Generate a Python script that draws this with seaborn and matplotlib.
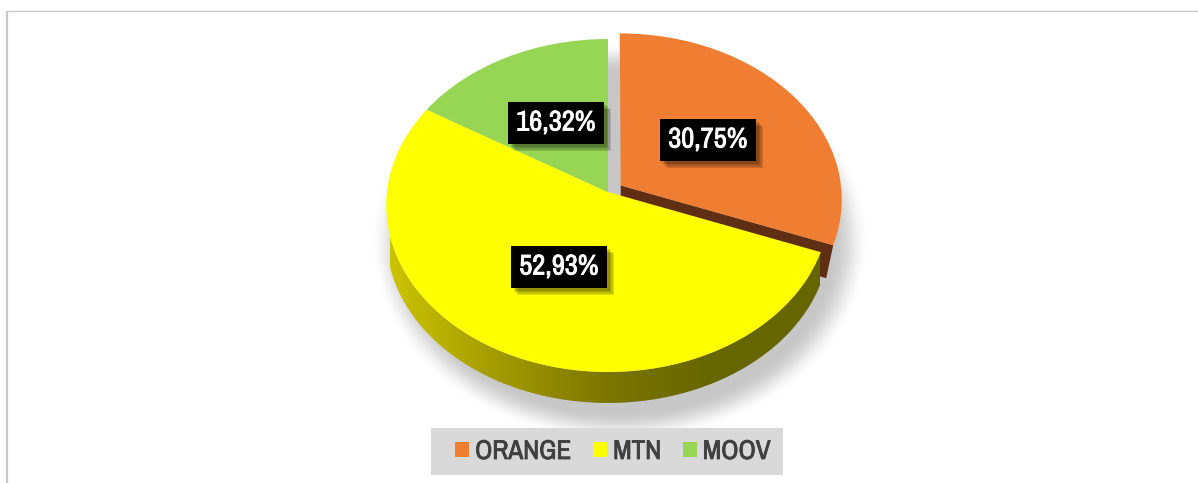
import numpy as np
import matplotlib
matplotlib.use("Agg")
import matplotlib.pyplot as plt
import matplotlib.patheffects as pe
from matplotlib.colors import LinearSegmentedColormap
from matplotlib.patches import Patch, Polygon, Rectangle
from matplotlib.transforms import Transform
import seaborn as sns

# donnees
operateurs = ["ORANGE", "MTN", "MOOV"]
parts = [30.75, 52.93, 16.32]
couleurs = ["#f07e32", "#ffff00", "#97d655"]

sns.set_theme(style="white")
plt.rcParams['font.family'] = ['Archivo Narrow', 'PT Sans Narrow', 'Liberation Sans', 'DejaVu Sans']

W, H = 1198, 483
CX, CY, RX, RY, K = 608, 192, 221, 165.4, 0.081
DEPTH = 31
EXPLODE = 0.07


# disque unite -> pixels, avec une perspective (le haut du disque est plus loin)
class Perspective(Transform):
    input_dims = 2
    output_dims = 2

    def transform_non_affine(self, values):
        u, v = np.asarray(values).T
        w = 1 + K * v
        return np.column_stack([CX + RX * u / w, CY - RY * v / w])


def arc(a1, a2, offset=(0, 0)):
    # a1, a2 en degres depuis le haut, sens horaire
    t = np.radians(np.linspace(a1, a2, 200))
    pts = np.column_stack([np.sin(t) + offset[0], np.cos(t) + offset[1]])
    return Perspective().transform_non_affine(pts)


fig = plt.figure(figsize=(W / 100, H / 100), dpi=100, facecolor="white")
ax = fig.add_axes([0, 0, 1, 1])

# ombre portee floue
xx, yy = np.meshgrid(np.arange(W) + 0.5, np.arange(H) + 0.5)
d = np.sqrt(((xx - 620) / 250) ** 2 + ((yy - 242) / 200) ** 2)
t = np.clip((1.0 - d) / 0.15, 0, 1)
ombre = np.zeros((H, W, 4))
ombre[..., 3] = 0.22 * t * t * (3 - 2 * t)
ax.imshow(ombre, extent=(0, W, H, 0), aspect="auto", zorder=1)

angles = np.cumsum([0] + [p * 3.6 for p in parts])

# flanc de la tranche orange (detachee), visible seulement sous la coupe
mid = np.radians((angles[0] + angles[1]) / 2)
off = (EXPLODE * np.sin(mid), EXPLODE * np.cos(mid))
bord = arc(angles[0], angles[1], off)
apex = Perspective().transform_non_affine(np.array([off]))
ax.add_patch(Polygon(np.vstack([apex, bord[-1:], bord[-1:] + [-7, DEPTH + 2], apex + [0, DEPTH]]),
                     closed=True, fc="#602e12", ec="none", zorder=2))

# flanc de la tranche jaune avec degrade
bord = arc(angles[1], angles[2])
bas = bord + [0, DEPTH]
cmap = LinearSegmentedColormap.from_list(
    "rim", ["#cbc300", "#a39b00", "#7c7600", "#666600", "#666600"], N=256)
grad = ax.imshow(np.linspace(0, 1, 256)[None, :], extent=(390, 820, 420, 200),
                 aspect="auto", cmap=cmap, zorder=3)
poly = Polygon(np.vstack([bord, bas[::-1]]), closed=True, fc="none", ec="none",
               transform=ax.transData)
ax.add_patch(poly)
grad.set_clip_path(poly)

# dessus du camembert
wedges, _ = ax.pie(parts, colors=couleurs, startangle=90, counterclock=False,
                   explode=[EXPLODE, 0, 0], wedgeprops={"linewidth": 0})
for w in wedges:
    w.set_transform(Perspective() + ax.transData)
    w.set_zorder(4)

ax.set_aspect("auto")
ax.set_xlim(0, W)
ax.set_ylim(H, 0)
ax.axis("off")

# etiquettes
pos_etiquettes = [(708, 140), (559, 267), (556, 123)]
for p, (x, y) in zip(parts, pos_etiquettes):
    txt = ax.text(x, y, f"{p:.2f}%".replace(".", ","), color="white", fontsize=20.5,
                  fontweight="bold", ha="center", va="center", zorder=6,
                  bbox=dict(boxstyle="square,pad=0.3", fc="black", ec="none"))
    txt.set_path_effects([pe.withStroke(linewidth=0.6, foreground="white")])
    txt.get_bbox_patch().set_path_effects(
        [pe.SimplePatchShadow(offset=(o, -o), shadow_rgbFace="black", alpha=0.13)
         for o in (5, 4, 3, 2)] + [pe.Normal()])

# cadre du graphique
ax.plot([7, 7], [H, 10.5], color="#c8c8c8", lw=1.6, zorder=0, solid_capstyle="butt")
ax.plot([7, W], [10.5, 10.5], color="#c8c8c8", lw=1, zorder=0, solid_capstyle="butt")

# legende
ax.add_patch(Rectangle((431, 428), 352, 47, fc="#d9d9d9", ec="none", zorder=5))
handles = [Patch(fc=c, ec="none") for c in couleurs]
leg = ax.legend(handles, operateurs, loc="center left", bbox_to_anchor=(455, 451.5),
                bbox_transform=ax.transData, ncol=3, frameon=False,
                prop={"size": 19.5, "weight": "bold"}, labelcolor="#404040",
                handlelength=0.52, handleheight=0.52, handletextpad=0.22,
                columnspacing=0.8, borderpad=0, borderaxespad=0)
leg.set_zorder(7)
for t_leg in leg.get_texts():
    t_leg.set_path_effects([pe.withStroke(linewidth=0.6, foreground="#404040")])

fig.savefig("out.png", dpi=100)
